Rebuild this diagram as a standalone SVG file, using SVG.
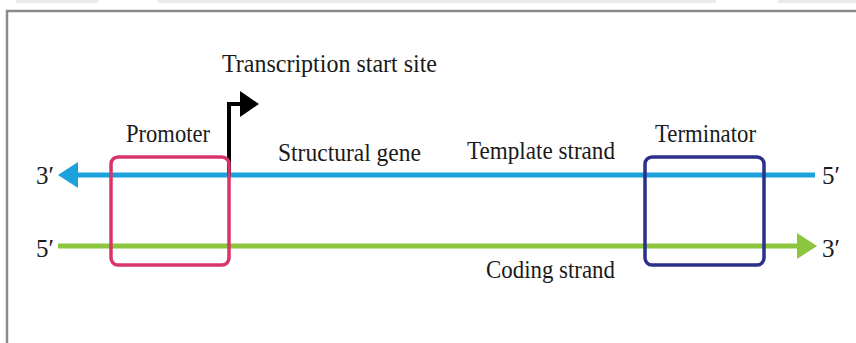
<svg xmlns="http://www.w3.org/2000/svg" width="856" height="343" viewBox="0 0 856 343">
<defs>
<style>
.t{font-family:"Liberation Serif","Times New Roman",serif;font-size:25px;fill:#1a1a1a;}
.box{fill:none;stroke-width:3.5;}
</style>
<marker id="ab" markerUnits="userSpaceOnUse" markerWidth="20" markerHeight="26" refX="0" refY="13" orient="auto-start-reverse" viewBox="0 0 20 26"><path d="M0,0 L20,13 L0,26 Z" fill="#1ba1dc"/></marker>
<marker id="ag" markerUnits="userSpaceOnUse" markerWidth="20" markerHeight="26" refX="0" refY="13" orient="auto" viewBox="0 0 20 26"><path d="M0,0 L20,13 L0,26 Z" fill="#8cc63f"/></marker>
</defs>
<rect width="856" height="343" fill="#fff"/>
<g id="frame">
<rect x="16" y="0" width="82" height="3" fill="#ebebeb"/>
<rect x="158" y="0" width="558" height="3" fill="#ebebeb"/>
<rect x="778" y="0" width="78" height="3" fill="#ebebeb"/>
<line x1="6" y1="11" x2="856" y2="11" stroke="#8a8a8a" stroke-width="2.5"/>
<line x1="7" y1="10" x2="7" y2="343" stroke="#8a8a8a" stroke-width="2.5"/>
</g>
<g id="connectors">
<line id="template" x1="815" y1="175" x2="78" y2="175" stroke="#1ba1dc" stroke-width="5" marker-end="url(#ab)"/>
<line id="coding" x1="58" y1="246" x2="797" y2="246" stroke="#8cc63f" stroke-width="5" marker-end="url(#ag)"/>
<path id="tss" d="M229,175 V104 H242" fill="none" stroke="#000" stroke-width="4"/>
<path d="M240,91 L259,104 L240,117 Z" fill="#000"/>
</g>
<g id="promoter">
<rect class="box" x="111" y="157" width="118" height="108" rx="7" stroke="#d9346a"/>
<text class="t" x="126" y="142" textLength="84" lengthAdjust="spacingAndGlyphs">Promoter</text>
</g>
<g id="terminator">
<rect class="box" x="645" y="157" width="119" height="108" rx="7" stroke="#2b3089"/>
<text class="t" x="655" y="142" textLength="101" lengthAdjust="spacingAndGlyphs">Terminator</text>
</g>
<g id="labels">
<text class="t" x="222" y="72" textLength="215" lengthAdjust="spacingAndGlyphs">Transcription start site</text>
<text class="t" x="278" y="161" textLength="143" lengthAdjust="spacingAndGlyphs">Structural gene</text>
<text class="t" x="467" y="159" textLength="148" lengthAdjust="spacingAndGlyphs">Template strand</text>
<text class="t" x="486" y="278" textLength="129" lengthAdjust="spacingAndGlyphs">Coding strand</text>
<text class="t" x="36" y="184">3′</text>
<text class="t" x="36" y="257">5′</text>
<text class="t" x="822" y="184">5′</text>
<text class="t" x="822" y="257">3′</text>
</g>
</svg>
